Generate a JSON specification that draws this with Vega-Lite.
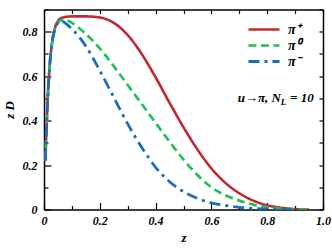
{
  "$schema": "https://vega.github.io/schema/vega-lite/v6.json",
  "width": 279,
  "height": 200,
  "autosize": {"type": "none"},
  "padding": {"left": 44, "top": 9.5, "right": 9, "bottom": 39.5},
  "background": "white",
  "config": {
    "view": {"stroke": null},
    "axis": {
      "labelFont": "Liberation Serif", "labelFontStyle": "italic", "labelFontWeight": "bold",
      "labelFontSize": 12, "labelColor": "black",
      "titleFont": "Liberation Serif", "titleFontStyle": "italic", "titleFontWeight": "bold",
      "titleFontSize": 13, "titleColor": "black",
      "domainColor": "black", "domainWidth": 1.5,
      "tickColor": "black", "tickWidth": 1.2, "grid": false
    },
    "legend": {
      "labelFont": "Liberation Serif", "labelFontStyle": "italic", "labelFontWeight": "bold",
      "labelFontSize": 14, "labelColor": "black"
    }
  },
  "resolve": {"axis": {"x": "independent", "y": "independent"}},
  "layer": [
    {
      "data": {"values": [
        {"z": 0.005, "v": 0.22, "p": "π⁺"}, {"z": 0.01, "v": 0.40, "p": "π⁺"}, {"z": 0.015, "v": 0.54, "p": "π⁺"},
        {"z": 0.02, "v": 0.64, "p": "π⁺"}, {"z": 0.03, "v": 0.76, "p": "π⁺"}, {"z": 0.04, "v": 0.82, "p": "π⁺"},
        {"z": 0.05, "v": 0.848, "p": "π⁺"}, {"z": 0.06, "v": 0.86, "p": "π⁺"}, {"z": 0.08, "v": 0.867, "p": "π⁺"},
        {"z": 0.1, "v": 0.869, "p": "π⁺"}, {"z": 0.15, "v": 0.869, "p": "π⁺"}, {"z": 0.2, "v": 0.864, "p": "π⁺"},
        {"z": 0.25, "v": 0.84, "p": "π⁺"}, {"z": 0.3, "v": 0.785, "p": "π⁺"}, {"z": 0.35, "v": 0.70, "p": "π⁺"},
        {"z": 0.4, "v": 0.595, "p": "π⁺"}, {"z": 0.45, "v": 0.48, "p": "π⁺"}, {"z": 0.5, "v": 0.37, "p": "π⁺"},
        {"z": 0.55, "v": 0.27, "p": "π⁺"}, {"z": 0.6, "v": 0.185, "p": "π⁺"}, {"z": 0.65, "v": 0.12, "p": "π⁺"},
        {"z": 0.7, "v": 0.073, "p": "π⁺"}, {"z": 0.75, "v": 0.04, "p": "π⁺"}, {"z": 0.8, "v": 0.019, "p": "π⁺"},
        {"z": 0.85, "v": 0.008, "p": "π⁺"}, {"z": 0.9, "v": 0.002, "p": "π⁺"}, {"z": 0.95, "v": 0.0, "p": "π⁺"},

        {"z": 0.005, "v": 0.22, "p": "π⁰"}, {"z": 0.01, "v": 0.40, "p": "π⁰"}, {"z": 0.015, "v": 0.54, "p": "π⁰"},
        {"z": 0.02, "v": 0.64, "p": "π⁰"}, {"z": 0.03, "v": 0.76, "p": "π⁰"}, {"z": 0.04, "v": 0.815, "p": "π⁰"},
        {"z": 0.05, "v": 0.84, "p": "π⁰"}, {"z": 0.06, "v": 0.852, "p": "π⁰"}, {"z": 0.07, "v": 0.855, "p": "π⁰"},
        {"z": 0.08, "v": 0.853, "p": "π⁰"}, {"z": 0.1, "v": 0.84, "p": "π⁰"}, {"z": 0.15, "v": 0.79, "p": "π⁰"},
        {"z": 0.2, "v": 0.725, "p": "π⁰"}, {"z": 0.25, "v": 0.645, "p": "π⁰"}, {"z": 0.3, "v": 0.56, "p": "π⁰"},
        {"z": 0.35, "v": 0.475, "p": "π⁰"}, {"z": 0.4, "v": 0.39, "p": "π⁰"}, {"z": 0.45, "v": 0.305, "p": "π⁰"},
        {"z": 0.5, "v": 0.225, "p": "π⁰"}, {"z": 0.55, "v": 0.155, "p": "π⁰"}, {"z": 0.6, "v": 0.1, "p": "π⁰"},
        {"z": 0.65, "v": 0.064, "p": "π⁰"}, {"z": 0.7, "v": 0.04, "p": "π⁰"}, {"z": 0.75, "v": 0.022, "p": "π⁰"},
        {"z": 0.8, "v": 0.011, "p": "π⁰"}, {"z": 0.85, "v": 0.004, "p": "π⁰"}, {"z": 0.9, "v": 0.001, "p": "π⁰"},
        {"z": 0.95, "v": 0.0, "p": "π⁰"},

        {"z": 0.005, "v": 0.22, "p": "π⁻"}, {"z": 0.01, "v": 0.40, "p": "π⁻"}, {"z": 0.015, "v": 0.54, "p": "π⁻"},
        {"z": 0.02, "v": 0.64, "p": "π⁻"}, {"z": 0.03, "v": 0.76, "p": "π⁻"}, {"z": 0.04, "v": 0.815, "p": "π⁻"},
        {"z": 0.05, "v": 0.84, "p": "π⁻"}, {"z": 0.06, "v": 0.848, "p": "π⁻"}, {"z": 0.07, "v": 0.845, "p": "π⁻"},
        {"z": 0.08, "v": 0.835, "p": "π⁻"}, {"z": 0.1, "v": 0.812, "p": "π⁻"}, {"z": 0.13, "v": 0.77, "p": "π⁻"},
        {"z": 0.15, "v": 0.735, "p": "π⁻"}, {"z": 0.2, "v": 0.625, "p": "π⁻"}, {"z": 0.25, "v": 0.505, "p": "π⁻"},
        {"z": 0.3, "v": 0.385, "p": "π⁻"}, {"z": 0.35, "v": 0.28, "p": "π⁻"}, {"z": 0.4, "v": 0.19, "p": "π⁻"},
        {"z": 0.45, "v": 0.125, "p": "π⁻"}, {"z": 0.5, "v": 0.08, "p": "π⁻"}, {"z": 0.55, "v": 0.05, "p": "π⁻"},
        {"z": 0.6, "v": 0.03, "p": "π⁻"}, {"z": 0.65, "v": 0.018, "p": "π⁻"}, {"z": 0.7, "v": 0.01, "p": "π⁻"},
        {"z": 0.75, "v": 0.005, "p": "π⁻"}, {"z": 0.8, "v": 0.002, "p": "π⁻"}, {"z": 0.85, "v": 0.0005, "p": "π⁻"},
        {"z": 0.9, "v": 0.0, "p": "π⁻"}
      ]},
      "mark": {"type": "line", "interpolate": "monotone", "strokeCap": "butt", "clip": true},
      "encoding": {
        "x": {
          "field": "z", "type": "quantitative",
          "scale": {"domain": [0, 1], "nice": false, "zero": false},
          "axis": {
            "orient": "bottom", "title": "z", "titlePadding": 2,
            "values": [0, 0.1, 0.2, 0.3, 0.4, 0.5, 0.6, 0.7, 0.8, 0.9, 1],
            "labelExpr": "round(datum.value*10) % 2 == 1 ? '' : (datum.value == 0 ? '0' : format(datum.value, '.1f'))",
            "tickSize": {"condition": {"test": "round(datum.value*10) % 2 == 1", "value": -4}, "value": -7},
            "labelPadding": 12.5, "labelFlush": false, "labelOverlap": false
          }
        },
        "y": {
          "field": "v", "type": "quantitative",
          "scale": {"domain": [0, 0.9], "nice": false, "zero": false},
          "axis": {
            "orient": "left", "title": "z D", "titlePadding": 6,
            "values": [0, 0.1, 0.2, 0.3, 0.4, 0.5, 0.6, 0.7, 0.8, 0.9],
            "labelExpr": "round(datum.value*10) % 2 == 1 ? '' : (datum.value == 0 ? '0' : format(datum.value, '.1f'))",
            "tickSize": {"condition": {"test": "round(datum.value*10) % 2 == 1", "value": -4}, "value": -7},
            "labelPadding": 14, "labelFlush": false, "labelOverlap": false
          }
        },
        "color": {
          "field": "p", "type": "nominal",
          "scale": {"domain": ["π⁺", "π⁰", "π⁻"], "range": ["#be2a32", "#22bf5c", "#1c6bc0"]},
          "legend": {
            "title": null, "orient": "none", "legendX": 213, "legendY": 13,
            "symbolType": "M-3,0H3", "symbolSize": 107, "labelOffset": 17,
            "rowPadding": 2, "padding": 0
          }
        },
        "strokeDash": {
          "field": "p", "type": "nominal",
          "scale": {"domain": ["π⁺", "π⁰", "π⁻"], "range": [[1, 0], [8, 4.5], [11, 5, 3, 5]]},
          "legend": {
            "title": null, "orient": "none", "legendX": 213, "legendY": 13,
            "symbolType": "M-3,0H3", "symbolSize": 107, "labelOffset": 17,
            "rowPadding": 2, "padding": 0
          }
        },
        "strokeWidth": {
          "field": "p", "type": "nominal",
          "scale": {"domain": ["π⁺", "π⁰", "π⁻"], "range": [2.6, 2.8, 4.8]},
          "legend": {
            "title": null, "orient": "none", "legendX": 213, "legendY": 13,
            "symbolType": "M-3,0H3", "symbolSize": 107, "labelOffset": 17,
            "rowPadding": 2, "padding": 0
          }
        }
      }
    },
    {
      "data": {"values": [{}]},
      "mark": {"type": "text", "font": "Liberation Serif", "fontStyle": "italic", "fontWeight": "bold", "fontSize": 13, "align": "right", "baseline": "alphabetic", "color": "black"},
      "encoding": {
        "x": {"datum": 0.849, "type": "quantitative",
          "axis": {"orient": "top", "title": null, "labels": false, "values": [0, 0.1, 0.2, 0.3, 0.4, 0.5, 0.6, 0.7, 0.8, 0.9, 1], "tickSize": -4}},
        "y": {"datum": 0.482, "type": "quantitative",
          "axis": {"orient": "right", "title": null, "labels": false, "values": [0, 0.1, 0.2, 0.3, 0.4, 0.5, 0.6, 0.7, 0.8, 0.9], "tickSize": -4}},
        "text": {"value": "u→π,  N"}
      }
    },
    {
      "data": {"values": [{}]},
      "mark": {"type": "text", "font": "Liberation Serif", "fontStyle": "italic", "fontWeight": "bold", "fontSize": 9, "align": "left", "baseline": "alphabetic", "color": "black"},
      "encoding": {
        "x": {"datum": 0.849, "type": "quantitative", "axis": null},
        "y": {"datum": 0.469, "type": "quantitative", "axis": null},
        "text": {"value": "L"}
      }
    },
    {
      "data": {"values": [{}]},
      "mark": {"type": "text", "font": "Liberation Serif", "fontStyle": "italic", "fontWeight": "bold", "fontSize": 13, "align": "left", "baseline": "alphabetic", "color": "black"},
      "encoding": {
        "x": {"datum": 0.882, "type": "quantitative", "axis": null},
        "y": {"datum": 0.482, "type": "quantitative", "axis": null},
        "text": {"value": "= 10"}
      }
    }
  ]
}
